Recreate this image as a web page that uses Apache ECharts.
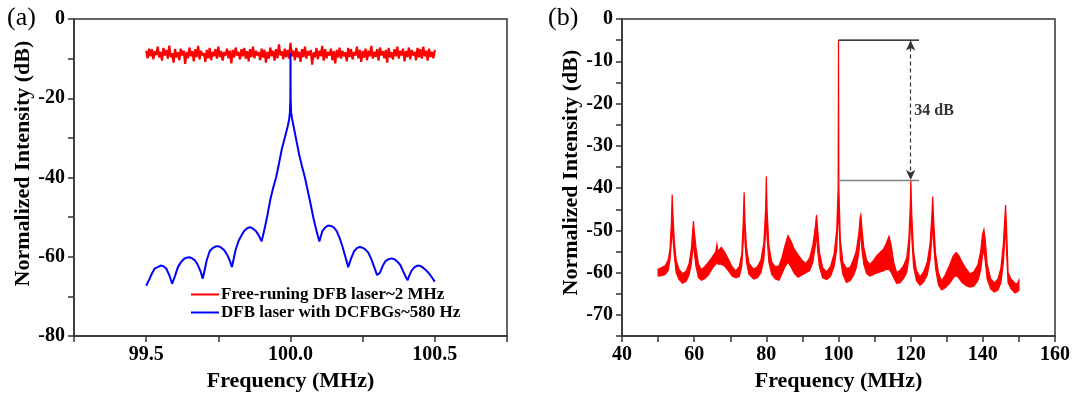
<!DOCTYPE html>
<html><head><meta charset="utf-8">
<script src="https://cdn.jsdelivr.net/npm/echarts@6/dist/echarts.min.js"></script>
<style>html,body{margin:0;padding:0;background:#fff}#c{width:1074px;height:397px}</style>
</head><body><div id="c"></div>
<script>
// ---------- Panel (a) data ----------
const freeRunName = 'Free-runing DFB laser~2 MHz';
const dcfbgName = 'DFB laser with DCFBGs~580 Hz';
const freeRunStart = 99.5;
const freeRunStep = 0.005;
const freeRunDb = [
-8.0,-9.9,-7.5,-9.4,-7.6,-10.2,-8.1,-9.1,-7.0,-9.7,
-8.3,-10.5,-7.3,-9.2,-7.8,-10.0,-6.7,-9.6,-8.6,-11.0,
-7.6,-9.7,-8.4,-10.4,-7.5,-9.2,-8.0,-11.3,-8.3,-9.9,
-7.2,-9.4,-8.1,-10.7,-7.6,-9.6,-6.8,-10.2,-8.0,-9.2,
-8.6,-10.8,-7.8,-9.9,-7.3,-10.4,-8.3,-9.4,-7.6,-10.0,
-7.0,-9.6,-8.1,-10.5,-8.4,-9.2,-7.5,-9.9,-8.0,-11.2,
-7.8,-9.7,-7.2,-9.2,-8.3,-10.2,-7.6,-9.4,-7.3,-10.0,
-8.1,-10.7,-7.6,-9.6,-7.0,-9.9,-8.0,-9.2,-8.4,-10.4,
-7.5,-9.7,-7.8,-11.0,-8.3,-10.0,-7.2,-9.4,-8.0,-10.5,
-7.6,-9.9,-6.4,-9.2,-8.1,-10.2,-7.5,-9.6,-7.8,-10.0,
-6.0,-9.4,-8.0,-10.4,-7.3,-9.7,-8.3,-10.8,-7.6,-9.6,
-7.0,-10.0,-8.1,-9.2,-7.8,-11.5,-8.4,-9.7,-7.3,-10.2,
-8.0,-9.4,-6.8,-10.5,-7.6,-9.9,-8.3,-9.2,-7.5,-10.4,
-8.1,-11.2,-7.8,-9.7,-7.2,-10.0,-8.0,-9.4,-8.4,-10.7,
-7.3,-9.6,-7.6,-10.2,-8.3,-9.2,-7.0,-9.9,-7.8,-10.8,
-8.1,-9.7,-7.5,-10.4,-8.0,-9.4,-6.8,-10.0,-8.3,-9.6,
-7.6,-10.5,-7.2,-9.2,-8.1,-9.9,-7.8,-11.0,-7.3,-9.7,
-8.4,-10.2,-7.6,-9.4,-7.0,-10.0,-8.0,-9.2,-7.5,-10.7,
-8.1,-9.6,-7.2,-10.2,-7.8,-9.2,-8.3,-10.4,-7.3,-9.7,
-7.6,-10.0,-7.0,-9.4,-8.0,-10.5,-7.5,-9.6,-8.3,-9.9,
-7.8
];
const dcfbgSpectrum = [
[99.50,-67.3],[99.51,-65.8],[99.52,-64.2],[99.53,-62.9],[99.54,-62.6],[99.55,-62.2],[99.56,-62.4],[99.57,-63.0],[99.58,-64.6],[99.59,-66.8],
[99.60,-64.8],[99.61,-62.6],[99.62,-61.4],[99.63,-60.6],[99.64,-60.2],[99.65,-60.1],[99.66,-60.4],[99.67,-61.0],[99.68,-62.2],[99.69,-64.0],[99.696,-65.5],
[99.70,-64.2],[99.71,-60.8],[99.72,-58.6],[99.73,-57.8],[99.74,-57.4],[99.75,-57.3],[99.76,-57.7],[99.77,-58.3],[99.78,-59.4],[99.79,-61.0],[99.797,-62.6],
[99.80,-61.6],[99.81,-58.2],[99.82,-56.0],[99.83,-54.6],[99.84,-53.4],[99.85,-52.8],[99.86,-52.5],[99.87,-52.9],[99.88,-53.5],[99.89,-54.6],[99.90,-56.1],
[99.91,-53.0],[99.92,-49.5],[99.93,-45.6],[99.94,-42.6],[99.95,-40.0],[99.96,-36.5],[99.97,-32.8],[99.98,-30.0],[99.99,-27.2],[99.995,-25.5],[99.998,-23.5],
[99.9995,-20.0],[100.0,-8.5],[100.0005,-20.0],
[100.002,-23.5],[100.005,-25.0],[100.01,-26.8],[100.02,-30.5],[100.03,-34.2],[100.04,-37.2],[100.05,-40.0],[100.06,-43.4],[100.07,-46.8],[100.08,-50.4],[100.09,-53.4],[100.10,-56.1],
[100.11,-53.6],[100.12,-52.6],[100.13,-52.1],[100.14,-52.2],[100.15,-52.6],[100.16,-53.5],[100.17,-55.2],[100.18,-57.4],[100.19,-60.0],[100.20,-62.6],
[100.21,-60.4],[100.22,-58.6],[100.23,-57.8],[100.24,-57.5],[100.25,-57.7],[100.26,-58.2],[100.27,-59.0],[100.28,-60.6],[100.29,-62.6],[100.30,-64.6],[100.305,-65.1],
[100.31,-64.0],[100.32,-62.2],[100.33,-61.0],[100.34,-60.6],[100.35,-60.4],[100.36,-60.6],[100.37,-61.2],[100.38,-62.0],[100.39,-63.6],[100.40,-65.2],[100.406,-65.9],
[100.41,-65.0],[100.42,-63.4],[100.43,-62.6],[100.44,-62.2],[100.45,-62.3],[100.46,-62.8],[100.47,-63.4],[100.48,-64.2],[100.49,-65.2],[100.50,-66.3]
];
const xLabelsA = ['99.5','100.0','100.5'];
const yLabelsA = ['0','-20','-40','-60','-80'];

// ---------- Panel (b) data ----------
const freqB = [
50.0,51.0,52.0,52.8,53.3,53.7,53.9,54.1,54.5,55.0,55.8,56.8,57.8,58.6,59.2,59.6,59.8,60.0,60.5,61.2,
62.0,63.0,64.0,65.0,66.0,66.3,66.6,67.5,68.5,69.5,70.5,71.5,72.5,73.2,73.6,73.85,74.1,74.5,75.2,76.5,
77.5,78.5,79.3,79.8,80.0,80.2,80.7,81.5,82.5,83.5,84.3,85.2,86.0,86.8,87.8,88.8,90.0,91.0,92.0,92.9,
93.6,93.9,94.2,94.7,95.6,96.7,97.8,98.8,99.5,99.9,100.0,100.1,100.5,101.2,102.2,103.2,104.1,104.9,105.6,106.0,
106.2,106.5,107.0,107.8,108.7,109.6,110.5,111.5,112.4,113.3,114.0,114.6,115.3,116.1,117.0,118.0,118.9,119.5,119.9,120.05,
120.3,120.8,121.6,122.6,123.6,124.6,125.4,125.9,126.1,126.4,126.9,127.7,128.6,129.6,130.9,131.8,132.6,133.4,134.2,135.3,
136.4,137.5,138.6,139.4,139.9,140.3,140.7,141.2,142.2,143.2,144.2,145.0,145.7,146.1,146.3,146.6,147.0,147.8,148.9,149.5,150.0
];
const upperB = [
-59.2,-58.8,-58.3,-57.0,-54.5,-48.0,-41.5,-46.0,-52.5,-57.0,-59.2,-60.2,-59.6,-57.8,-54.5,-50.0,-47.8,-50.0,-54.0,-58.0,
-59.3,-58.5,-57.5,-56.3,-55.0,-53.3,-55.0,-54.0,-55.2,-56.8,-58.6,-59.6,-58.6,-55.5,-48.0,-41.0,-48.0,-54.0,-57.8,-59.2,
-58.6,-57.0,-53.0,-45.0,-37.2,-45.0,-53.5,-57.5,-58.6,-58.4,-56.5,-53.5,-51.2,-52.5,-54.5,-55.8,-57.2,-57.8,-56.5,-53.5,
-49.0,-46.3,-49.5,-55.0,-58.8,-59.8,-58.5,-55.5,-50.0,-40.0,-5.0,-40.0,-52.0,-57.5,-59.0,-58.8,-57.0,-55.0,-51.0,-47.0,
-46.3,-49.5,-54.0,-57.0,-58.1,-57.2,-56.1,-55.2,-54.5,-53.0,-51.4,-53.5,-57.5,-60.0,-59.5,-58.4,-56.5,-52.0,-44.0,-38.1,
-46.0,-55.0,-59.5,-61.0,-59.8,-57.5,-53.0,-46.0,-42.0,-48.0,-55.5,-60.0,-62.0,-60.5,-58.0,-56.0,-55.2,-56.0,-57.4,-59.0,
-60.3,-59.8,-58.2,-55.0,-51.0,-49.8,-52.5,-58.0,-61.5,-62.4,-61.5,-59.0,-53.0,-47.0,-44.0,-50.0,-60.0,-61.5,-62.5,-62.7,-61.8
];
const lowerB = [
-60.8,-60.7,-60.4,-59.5,-57.0,-52.5,-46.5,-51.5,-56.0,-60.0,-61.6,-62.5,-62.0,-60.5,-58.0,-54.5,-52.5,-55.0,-58.5,-61.2,
-61.8,-61.4,-60.5,-59.0,-58.0,-57.3,-58.0,-58.0,-58.5,-59.6,-60.8,-61.2,-60.9,-58.5,-52.5,-45.5,-53.0,-57.5,-60.4,-61.5,
-61.2,-60.0,-57.0,-50.5,-42.5,-51.5,-57.5,-60.4,-61.5,-61.8,-60.3,-58.5,-57.5,-58.6,-60.2,-61.1,-60.5,-60.0,-59.5,-57.5,
-53.5,-50.5,-54.5,-58.5,-61.2,-61.6,-60.9,-58.5,-54.5,-46.5,-20.0,-46.5,-56.5,-60.4,-62.3,-61.9,-60.8,-59.0,-55.5,-51.5,
-50.5,-54.5,-58.0,-60.2,-60.8,-60.5,-60.1,-59.8,-59.6,-59.2,-59.2,-59.9,-61.2,-62.5,-62.4,-61.4,-60.0,-56.5,-49.5,-42.5,
-51.5,-58.5,-61.9,-63.0,-62.2,-60.5,-57.0,-51.5,-46.5,-53.5,-59.0,-62.9,-64.1,-63.6,-62.4,-61.2,-60.7,-61.3,-62.3,-63.0,
-63.4,-63.2,-61.9,-59.5,-56.0,-54.5,-57.5,-61.5,-63.9,-64.6,-64.1,-62.4,-57.5,-51.5,-48.5,-55.5,-62.4,-63.8,-64.8,-64.5,-64.2
];
const xLabelsB = ['40','60','80','100','120','140','160'];
const yLabelsB = ['0','-10','-20','-30','-40','-50','-60','-70'];
// annotation: 34 dB suppression between carrier (100 MHz) and strongest side peak (120 MHz)
const refTopDb = -5.0;
const refSideDb = -38.2;
const refLineX = [100, 122.3];
const arrowX = 120;
const noteText = '34 dB';
const notePos = [121.0, -21.8];

// ---------- Build chart ----------
const FF = "'Liberation Serif','Times New Roman',serif";
const redA = freeRunDb.map((v, i) => [+(freeRunStart + i * freeRunStep).toFixed(4), v]);

const axisLineStyle = {color: '#333', width: 1.5};
function xAxisCfg(gi, min, max, interval, labels) {
  return {
    gridIndex: gi, type: 'value', min, max, interval,
    name: 'Frequency (MHz)', nameLocation: 'middle', nameGap: 33,
    nameTextStyle: {fontFamily: FF, fontWeight: 'bold', fontSize: 22, color: '#000'},
    axisLine: {onZero: false, lineStyle: axisLineStyle},
    axisTick: {show: true, inside: false, length: 6, lineStyle: axisLineStyle},
    axisLabel: {margin: 9, fontFamily: FF, fontWeight: 'bold', fontSize: 20, color: '#000',
      formatter: v => { const s = String(+v.toFixed(2)); const s1 = (+v).toFixed(1);
        if (labels.includes(s)) return s; if (labels.includes(s1) && Math.abs(v * 2 - Math.round(v * 2)) < 1e-6) return s1; return ''; }},
    splitLine: {show: false}
  };
}
function yAxisCfg(gi, min, max, interval, labels, gap, pad) {
  return {
    gridIndex: gi, type: 'value', min, max, interval,
    name: 'Normalized Intensity (dB)', nameLocation: 'middle', nameGap: gap,
    nameTextStyle: {fontFamily: FF, fontWeight: 'bold', fontSize: 22, color: '#000', padding: [0, 0, 0, pad]},
    axisLine: {onZero: false, lineStyle: axisLineStyle},
    axisTick: {show: true, inside: false, length: 6, lineStyle: axisLineStyle},
    axisLabel: {margin: 9, fontFamily: FF, fontWeight: 'bold', fontSize: 20, color: '#000',
      formatter: v => labels.includes(String(v)) ? String(v) : ''},
    splitLine: {show: false}
  };
}

const chart = echarts.init(document.getElementById('c'), null, {renderer: 'canvas'});
chart.setOption({
  animation: false,
  backgroundColor: '#fff',
  grid: [
    {left: 74, top: 19, right: 567, bottom: 59, show: true, borderColor: '#333', borderWidth: 1.5},
    {left: 622, top: 19, right: 19, bottom: 59, show: true, borderColor: '#333', borderWidth: 1.5}
  ],
  xAxis: [
    xAxisCfg(0, 99.25, 100.75, 0.25, xLabelsA),
    xAxisCfg(1, 40, 160, 10, xLabelsB)
  ],
  yAxis: [
    yAxisCfg(0, -80, 0, 10, yLabelsA, 32, 28),
    yAxisCfg(1, -75, 0, 5, yLabelsB, 40, 10)
  ],
  legend: {
    data: [freeRunName, dcfbgName], orient: 'vertical', left: 191, top: 286,
    icon: 'rect', itemWidth: 28, itemHeight: 2, itemGap: 1, padding: 0,
    textStyle: {fontFamily: FF, fontWeight: 'bold', fontSize: 17, color: '#000', padding: [0,0,0,-3]}
  },
  graphic: [
    {type: 'text', left: 7, top: 5, style: {text: '(a)', font: "26px 'Liberation Serif'", fill: '#000'}},
    {type: 'text', left: 548, top: 5, style: {text: '(b)', font: "26px 'Liberation Serif'", fill: '#000'}}
  ],
  series: [
    {name: freeRunName, type: 'line', xAxisIndex: 0, yAxisIndex: 0, data: redA, symbol: 'none',
      lineStyle: {color: '#ff0000', width: 2.2}, itemStyle: {color: '#ff0000'}},
    {name: dcfbgName, type: 'line', xAxisIndex: 0, yAxisIndex: 0, data: dcfbgSpectrum, symbol: 'none',
      lineStyle: {color: '#0000ff', width: 2}, itemStyle: {color: '#0000ff'}},
    {name: 'spectrum-b', type: 'custom', xAxisIndex: 1, yAxisIndex: 1,
      data: [[freqB[0], upperB[0]]],
      renderItem: (params, api) => {
        const pts = [];
        for (let i = 0; i < freqB.length; i++) pts.push(api.coord([freqB[i], upperB[i]]));
        for (let i = freqB.length - 1; i >= 0; i--) pts.push(api.coord([freqB[i], lowerB[i]]));
        return {type: 'polygon', shape: {points: pts},
          style: {fill: '#ff0000', stroke: '#ff0000', lineWidth: 1.2, lineJoin: 'miter'}};
      }, z: 2},
    {name: 'ref-top', type: 'line', xAxisIndex: 1, yAxisIndex: 1, symbol: 'none',
      data: [[refLineX[0], refTopDb], [refLineX[1], refTopDb]], lineStyle: {color: '#000', width: 1.2}, z: 5},
    {name: 'ref-side', type: 'line', xAxisIndex: 1, yAxisIndex: 1, symbol: 'none',
      data: [[refLineX[0], refSideDb], [refLineX[1], refSideDb]], lineStyle: {color: '#808080', width: 1.5}, z: 5,
      markLine: {silent: true, symbol: ['arrow', 'arrow'], symbolSize: [7, 10], label: {show: false},
        lineStyle: {color: '#333', width: 1.2, type: [4, 3]},
        data: [[{coord: [arrowX, refTopDb - 0.1]}, {coord: [arrowX, refSideDb + 0.1]}]]}},
    {name: 'note', type: 'scatter', xAxisIndex: 1, yAxisIndex: 1, symbolSize: 0.01,
      data: [notePos], label: {show: true, position: 'right', distance: 0, formatter: noteText,
        fontFamily: FF, fontWeight: 'bold', fontSize: 16, color: '#000'}, z: 6}
  ]
});
</script></body></html>
